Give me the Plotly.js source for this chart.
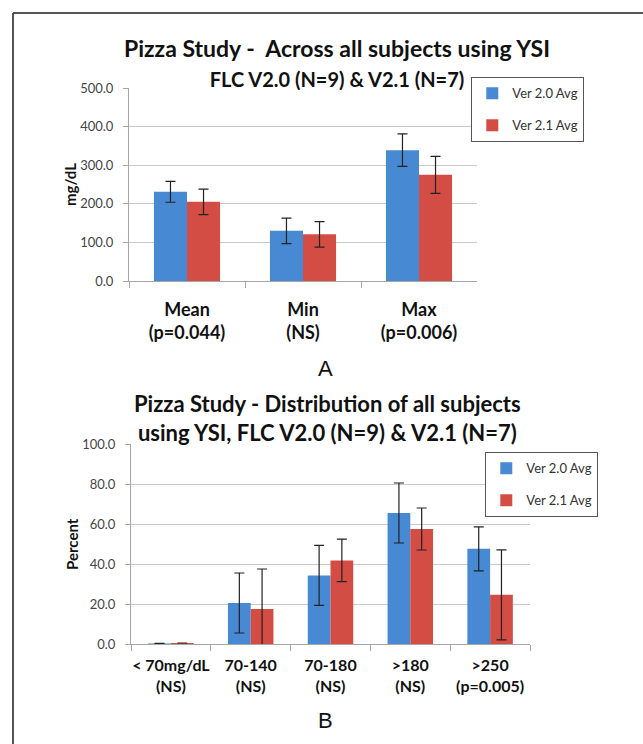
<!DOCTYPE html>
<html>
<head>
<meta charset="utf-8">
<script src="https://cdn.plot.ly/plotly-3.0.1.min.js"></script>
<style>
  html, body { margin: 0; padding: 0; background: #ffffff; }
  #chart { width: 643px; height: 744px; }
</style>
</head>
<body>
<div id="chart"></div>
<script>
// ---- Data: panel A ----
const categoriesA = ["Mean<br>(p=0.044)", "Min<br>(NS)", "Max<br>(p=0.006)"];
const ver20AvgA = [231, 130, 339];
const ver20ErrA = [27, 33, 42];
const ver21AvgA = [205, 121, 275];
const ver21ErrA = [33, 33, 48];

// ---- Data: panel B ----
const categoriesB = ["&lt; 70mg/dL<br>(NS)", "70-140<br>(NS)", "70-180<br>(NS)", "&gt;180<br>(NS)", "&gt;250<br>(p=0.005)"];
const ver20AvgB = [0.3, 20.5, 34.3, 65.5, 47.6];
const ver20ErrB = [0, 15, 15, 15, 11];
const ver21AvgB = [0.5, 17.5, 41.8, 57.5, 24.6];
const ver21ErrB = [0, 20, 10.6, 10.5, 22.5];

const seriesNames = ["Ver 2.0 Avg", "Ver 2.1 Avg"];

const W = 643, H = 744;
const px = v => v / W;
const py = v => 1 - v / H;

const BLUE = "#4789d2";
const RED = "#d44d44";
const FONT = "Lato, 'Open Sans', sans-serif";

function errBar(arr) {
  return { type: "data", array: arr, visible: true, color: "#222", thickness: 1.2, width: 5 };
}

const traces = [
  { type: "bar", x: categoriesA, y: ver20AvgA, name: seriesNames[0], marker: { color: BLUE },
    error_y: errBar(ver20ErrA), xaxis: "x", yaxis: "y", legend: "legend", legendgroup: "a1", hoverinfo: "y" },
  { type: "bar", x: categoriesA, y: ver21AvgA, name: seriesNames[1], marker: { color: RED },
    error_y: errBar(ver21ErrA), xaxis: "x", yaxis: "y", legend: "legend", legendgroup: "a2", hoverinfo: "y" },
  { type: "bar", x: categoriesB, y: ver20AvgB, name: seriesNames[0], marker: { color: BLUE },
    error_y: errBar(ver20ErrB), xaxis: "x2", yaxis: "y2", legend: "legend2", legendgroup: "b1", hoverinfo: "y" },
  { type: "bar", x: categoriesB, y: ver21AvgB, name: seriesNames[1], marker: { color: RED },
    error_y: errBar(ver21ErrB), xaxis: "x2", yaxis: "y2", legend: "legend2", legendgroup: "b2", hoverinfo: "y" }
];

const xCommon = {
  type: "category", showgrid: false, showline: true, linecolor: "#a6a6a6", linewidth: 1,
  ticks: "outside", tickson: "boundaries", tickcolor: "#a6a6a6", ticklen: 6, tickangle: 0,
  fixedrange: true
};
const yCommon = {
  showgrid: true, gridcolor: "#c9c9c9", gridwidth: 1, showline: true, linecolor: "#a6a6a6",
  ticks: "outside", tickcolor: "#a6a6a6", ticklen: 5, tickformat: ".1f", ticklabelstandoff: 7,
  tickfont: { family: FONT, size: 13, color: "#444" }, zeroline: false, fixedrange: true
};

const legendCommon = {
  bgcolor: "#ffffff", bordercolor: "#555", borderwidth: 1.3,
  font: { family: FONT, size: 13, color: "#333" },
  xanchor: "left", yanchor: "top", traceorder: "grouped", tracegroupgap: 12,
  itemwidth: 30
};

const layout = {
  width: W, height: H,
  margin: { l: 0, r: 0, t: 0, b: 0 },
  paper_bgcolor: "#ffffff", plot_bgcolor: "#ffffff",
  barmode: "group", bargap: 0.43, bargroupgap: 0,
  font: { family: FONT },
  title: {
    text: "Pizza Study -  Across all subjects using YSI<br><span style=\"font-size:20px\">FLC V2.0 (N=9) &amp; V2.1 (N=7)</span>",
    font: { family: FONT, size: 23, color: "#111", weight: "bold" },
    x: px(337), xanchor: "center", xref: "paper",
    y: py(57), yanchor: "middle", yref: "paper"
  },
  xaxis: Object.assign({}, xCommon, { domain: [px(129), px(477)], anchor: "y", ticklabelstandoff: 12,
    tickfont: { family: FONT, size: 18, color: "#111", weight: "bold" } }),
  yaxis: Object.assign({}, yCommon, { domain: [py(281), py(88)], anchor: "x", range: [0, 500], dtick: 100 }),
  xaxis2: Object.assign({}, xCommon, { domain: [px(131), px(530)], anchor: "y2", ticklabelstandoff: 7,
    tickfont: { family: FONT, size: 16, color: "#111", weight: "bold" } }),
  yaxis2: Object.assign({}, yCommon, { domain: [py(644), py(444)], anchor: "x2", range: [0, 100], dtick: 20 }),
  legend: Object.assign({}, legendCommon, { x: px(471), y: py(77) }),
  legend2: Object.assign({}, legendCommon, { x: px(485), y: py(452) }),
  annotations: [
    { text: "mg/dL", xref: "paper", yref: "paper", x: px(70), y: py(185), textangle: -90,
      xanchor: "center", yanchor: "middle",
      showarrow: false, font: { family: FONT, size: 15, color: "#111", weight: "bold" } },
    { text: "Percent", xref: "paper", yref: "paper", x: px(72), y: py(544), textangle: -90,
      xanchor: "center", yanchor: "middle",
      showarrow: false, font: { family: FONT, size: 15, color: "#111", weight: "bold" } },
    { text: "A", xref: "paper", yref: "paper", x: px(325), y: py(368), showarrow: false,
      xanchor: "center", yanchor: "middle",
      font: { family: "Liberation Sans, Arial, sans-serif", size: 22, color: "#111" } },
    { text: "B", xref: "paper", yref: "paper", x: px(325), y: py(720), showarrow: false,
      xanchor: "center", yanchor: "middle",
      font: { family: "Liberation Sans, Arial, sans-serif", size: 22, color: "#111" } },
    { text: "Pizza Study - Distribution of all subjects<br>using YSI, FLC V2.0 (N=9) &amp; V2.1 (N=7)",
      xref: "paper", yref: "paper", x: px(327), y: py(418), xanchor: "center", yanchor: "middle",
      showarrow: false, font: { family: FONT, size: 22, color: "#111", weight: "bold" } }
  ],
  shapes: [
    { type: "line", xref: "paper", yref: "paper", x0: px(13), x1: px(13), y0: 0, y1: py(13),
      line: { color: "#555", width: 2 } },
    { type: "line", xref: "paper", yref: "paper", x0: px(13), x1: 1, y0: py(13), y1: py(13),
      line: { color: "#555", width: 2 } }
  ]
};

Plotly.newPlot("chart", traces, layout, { displayModeBar: false, staticPlot: true });
</script>
</body>
</html>
